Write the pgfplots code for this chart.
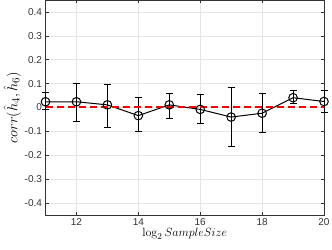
\documentclass[border=0pt]{standalone}
\usepackage[no-math]{fontspec}
\setmainfont{Liberation Sans}
\usepackage{pgfplots}
\pgfplotsset{compat=1.18}
\begin{document}
\begin{tikzpicture}
\begin{axis}[
  name=ax,
  scale only axis,
  width=278.5bp, height=215bp,
  xmin=11, xmax=20, ymin=-0.45, ymax=0.45,
  xtick={12,14,16,18,20},
  ytick={-0.4,-0.3,-0.2,-0.1,0,0.1,0.2,0.3,0.4},
  yticklabels={-0.4,-0.3,-0.2,-0.1,0,0.1,0.2,0.3,0.4},
  xticklabels={12,14,16,18,20},
  grid=major,
  major grid style={color=black!10, line width=0.6bp},
  tick align=inside,
  major tick length=3bp,
  tick style={color=black!80, line width=0.6bp},
  axis line style={color=black!80, line width=0.6bp},
  ticklabel style={font=\fontsize{10bp}{12bp}\selectfont, text=black!80},
  /pgf/number format/assume math mode=true,
  xlabel={$\log_2 SampleSize$},
  ylabel={$corr(\hat{h}_4,\hat{h}_6)$},
  xlabel style={font=\fontsize{12.5bp}{14bp}\selectfont, yshift=4bp},
  ylabel style={font=\fontsize{15bp}{17bp}\selectfont, yshift=-3bp},
  clip=false,
]
\addplot[black, line width=1bp, mark=o, mark size=4.3bp,
  mark options={line width=1bp},
  error bars/.cd, y dir=both, y explicit,
  error bar style={line width=1bp, black},
  error mark options={rotate=90, mark size=3.5bp, line width=1bp, black}]
coordinates {
 (11, 0.024) += (0,0.037) -= (0,0.034)
 (12, 0.024) += (0,0.078) -= (0,0.082)
 (13, 0.011) += (0,0.084) -= (0,0.095)
 (14,-0.034) += (0,0.074) -= (0,0.068)
 (15, 0.011) += (0,0.047) -= (0,0.057)
 (16,-0.008) += (0,0.061) -= (0,0.061)
 (17,-0.040) += (0,0.122) -= (0,0.122)
 (18,-0.024) += (0,0.081) -= (0,0.081)
 (19, 0.041) += (0,0.030) -= (0,0.024)
 (20, 0.025) += (0,0.047) -= (0,0.047)
};
\addplot[red, line width=2bp, dash pattern=on 7bp off 4bp] coordinates {(11,0) (20,0)};
\end{axis}
\pgfresetboundingbox
\path[use as bounding box] ([shift={(-45.5bp,-34.5bp)}]ax.south west) rectangle ([shift={(8bp,0bp)}]ax.north east);
\end{tikzpicture}
\end{document}
